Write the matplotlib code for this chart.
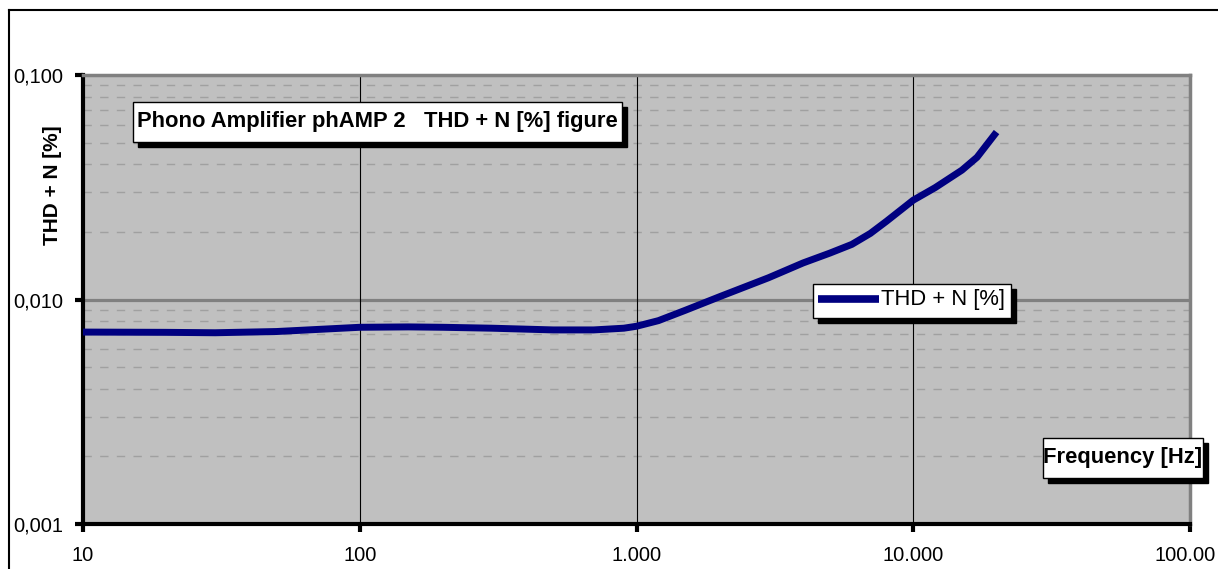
import matplotlib
matplotlib.use("Agg")
import matplotlib.pyplot as plt
from matplotlib.patches import Rectangle
from matplotlib.ticker import FixedLocator, NullFormatter
from matplotlib.transforms import ScaledTranslation

plt.rcParams['font.family'] = ['Liberation Sans', 'DejaVu Sans']

# values (Hz, %)
freq = [10, 20, 30, 50, 100, 150, 200, 300, 500, 700, 900, 1000, 1200, 1500,
        2000, 3000, 4000, 5000, 6000, 7000, 8000, 10000, 12000, 15000, 17000,
        20000]
thd = [0.00716, 0.00714, 0.00711, 0.00720, 0.00752, 0.00755, 0.00752, 0.00745,
       0.00732, 0.00732, 0.00745, 0.00760, 0.00805, 0.00895, 0.01030, 0.01250,
       0.01455, 0.01610, 0.01760, 0.01970, 0.02230, 0.02770, 0.03150, 0.03770,
       0.04300, 0.05570]
x_ticks = [10, 100, 1000, 10000, 100000]
x_labels = ['10', '100', '1.000', '10.000', '100.00']
y_ticks = [0.001, 0.01, 0.1]
y_labels = ['0,001', '0,010', '0,100']

W, H = 1218, 569
fig = plt.figure(figsize=(W / 100, H / 100), dpi=100)
ax = fig.add_axes([83 / W, (H - 524) / H, (1190 - 83) / W, (524 - 75) / H])
ax.set_facecolor('#c0c0c0')
ax.set_xscale('log')
ax.set_yscale('log')
ax.set_xlim(10, 100000)
ax.set_ylim(0.001, 0.1)

# grid
minor_y = [m * 10.0 ** e for e in (-3, -2) for m in range(2, 10)]
for v in minor_y:
    ax.axhline(v, color='#a0a0a0', lw=1, ls=(0, (6, 6)), zorder=1)
ax.axhline(0.01, color='#808080', lw=2.3, zorder=1)
for v in [100, 1000, 10000]:
    ax.axvline(v, color='black', lw=0.8, zorder=1)

ax.plot(freq, thd, color='#000080', lw=5, solid_capstyle='butt',
        solid_joinstyle='round', zorder=3, label='THD + N [%]')

ax.xaxis.set_major_locator(FixedLocator(x_ticks))
ax.xaxis.set_minor_formatter(NullFormatter())
ax.xaxis.set_minor_locator(FixedLocator([]))
ax.set_xticklabels(x_labels)
ax.yaxis.set_major_locator(FixedLocator(y_ticks))
ax.yaxis.set_minor_locator(FixedLocator([]))
ax.set_yticklabels(y_labels)
ax.tick_params(axis='both', direction='out', length=6, width=3, labelsize=14.5,
               pad=8)
ax.tick_params(axis='x', pad=10)

# last label is squeezed against the right edge in the reference
last = ax.get_xticklabels()[-1]
last.set_transform(last.get_transform() + ScaledTranslation(-0.05, 0, fig.dpi_scale_trans))

for s in ['left', 'bottom']:
    ax.spines[s].set_linewidth(3)
    ax.spines[s].set_color('black')
for s in ['top', 'right']:
    ax.spines[s].set_linewidth(2.5)
    ax.spines[s].set_color('#808080')

ax.set_ylabel('THD + N [%]', fontsize=15, fontweight='bold')
ax.yaxis.set_label_coords(-21 / (1190 - 83), (524 - 185) / (524 - 75))


def boxed(x0, y0, x1, y1, text, bold):
    # box in reference pixel coordinates, with an Excel-like drop shadow
    tr = fig.transFigure
    sh = Rectangle(((x0 + 5) / W, (H - y1 - 5) / H), (x1 - x0) / W, (y1 - y0) / H,
                   transform=tr, facecolor='black', edgecolor='black', zorder=5)
    bx = Rectangle((x0 / W, (H - y1) / H), (x1 - x0) / W, (y1 - y0) / H,
                   transform=tr, facecolor='white', edgecolor='black', lw=1, zorder=6)
    fig.patches.extend([sh, bx])
    if text:
        fig.text((x0 + x1) / 2 / W, (H - (y0 + y1) / 2) / H, text, ha='center',
                 va='center', fontsize=15.8, zorder=7,
                 fontweight='bold' if bold else 'normal')


boxed(133, 102, 622, 142, 'Phono Amplifier phAMP 2   THD + N [%] figure', True)
boxed(1043, 438, 1203, 478, 'Frequency [Hz]', True)

# legend
boxed(813, 284, 1011, 318, None, False)
fig.add_artist(plt.Line2D([818 / W, 879 / W], [(H - 299) / H] * 2, color='#000080',
                          lw=5.5, solid_capstyle='butt', zorder=8))
fig.text(881 / W, (H - 300) / H, 'THD + N [%]', ha='left', va='center',
         fontsize=15.8, zorder=8)

# outer border (top and left)
fig.add_artist(plt.Line2D([9 / W, 9 / W], [0, (H - 10) / H], color='black', lw=1.5))
fig.add_artist(plt.Line2D([9 / W, 1], [(H - 10) / H] * 2, color='black', lw=1.5))

fig.savefig('out.png', dpi=100)
